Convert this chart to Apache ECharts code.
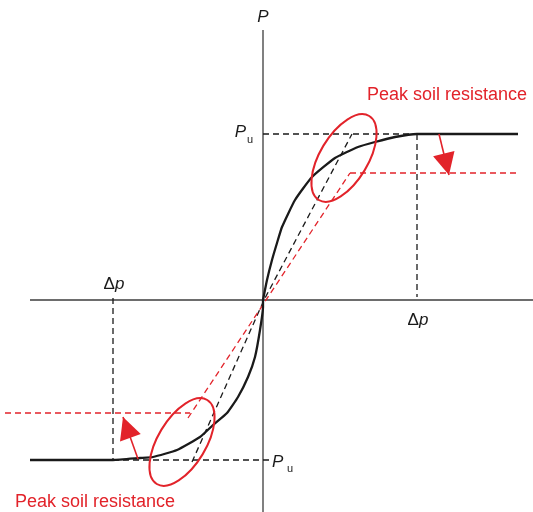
<!DOCTYPE html>
<html><head><meta charset="utf-8">
<script src="https://cdn.jsdelivr.net/npm/echarts@6/dist/echarts.min.js"></script>
<style>html,body{margin:0;padding:0;background:#fff}#c{width:533px;height:512px}</style>
</head><body><div id="c"></div>
<script>
// Data units: offsets from the origin (displacement to the right, force upwards)
const upperCurve = [[0,0],[4,20],[9,40],[14,57],[19,73],[32,100],[49,123],[72,142],[95,153],[112,158],[132,163],[154,166],[255,166]];
const lowerCurve = [[0,0],[0,-7],[-3,-30],[-8,-57],[-15,-77],[-25,-97],[-36,-113],[-50,-125],[-63,-137],[-86,-150],[-110,-157],[-123,-158],[-150,-160],[-233,-160]];
const deltaPos = 154, deltaNeg = -150, puPos = 166, puNeg = -160;
const puPosLine = [[0,166],[154,166]];
const deltaPosLine = [[154,166],[154,3]];
const puNegLine = [[-150,-160],[7,-160]];
const deltaNegLine = [[-150,2],[-150,-160]];
const initialStiffness = [[-71,-162],[1,0],[89,166]];
const reducedStiffness = [[-75,-118],[87,127]];
const reducedPeakPos = [[87,127],[255,127]];
const reducedPeakNeg = [[-258,-113],[-73,-113]];
const axisXLine = [[-233,0],[270,0]];
const axisYLine = [[0,270],[0,-212]];
const ellipseCenters = [[81,142],[-81,-142]];
const arrows = [[[176,166],[186,125]], [[-125,-159],[-140,-117]]];
const labelText = 'Peak soil resistance';

const RED = '#e2232a', BLACK = '#1a1a1a', AXIS = '#3c3c3c';
const FONT = "'Liberation Sans', Arial, sans-serif";

const chart = echarts.init(document.getElementById('c'), null, {renderer: 'canvas'});

function lineSeries(data, color, width, type, z, smooth) {
  return {type: 'line', data: data, showSymbol: false, symbol: 'none', silent: true, smooth: smooth || false,
    lineStyle: {color: color, width: width, type: type}, z: z || 2, animation: false};
}

chart.setOption({
  animation: false,
  grid: {left: 0, top: 0, width: 533, height: 512, containLabel: false},
  xAxis: {type: 'value', min: -263, max: 270, show: false},
  yAxis: {type: 'value', min: -212, max: 300, show: false},
  series: [
    lineSeries(axisXLine, AXIS, 1.3, 'solid', 1),
    lineSeries(axisYLine, AXIS, 1.3, 'solid', 1),
    lineSeries(puPosLine, BLACK, 1.3, [6, 4]),
    lineSeries(deltaPosLine, BLACK, 1.3, [6, 4]),
    lineSeries(puNegLine, BLACK, 1.3, [6, 4]),
    lineSeries(deltaNegLine, BLACK, 1.3, [6, 4]),
    lineSeries(initialStiffness, BLACK, 1.3, [6, 4]),
    lineSeries(reducedStiffness, RED, 1.3, [6, 4]),
    lineSeries(reducedPeakPos, RED, 1.3, [6, 4]),
    lineSeries(reducedPeakNeg, RED, 1.3, [6, 4]),
    lineSeries(upperCurve, BLACK, 2.3, 'solid', 3, 0.15),
    lineSeries(lowerCurve, BLACK, 2.3, 'solid', 3, 0.15),
    lineSeries(arrows[0], RED, 1.6, 'solid', 4),
    lineSeries(arrows[1], RED, 1.6, 'solid', 4)
  ]
});

const px = p => chart.convertToPixel({gridIndex: 0}, p);
const graphics = [];

ellipseCenters.forEach(c => {
  const p = px(c);
  graphics.push({type: 'ellipse', x: p[0], y: p[1], rotation: 59 * Math.PI / 180,
    shape: {cx: 0, cy: 0, rx: 49, ry: 24},
    style: {fill: 'none', stroke: RED, lineWidth: 2}, z: 10});
});

arrows.forEach(a => {
  const s = px(a[0]), t = px(a[1]);
  const dx = t[0] - s[0], dy = t[1] - s[1], len = Math.hypot(dx, dy);
  const ux = dx / len, uy = dy / len, L = 22, W = 11;
  const bx = t[0] - ux * L, by = t[1] - uy * L;
  graphics.push({type: 'polygon', shape: {points: [t, [bx + uy * W, by - ux * W], [bx - uy * W, by + ux * W]]},
    style: {fill: RED}, z: 11});
});

function txt(x, y, text, opts) {
  graphics.push({type: 'text', x: x, y: y, z: 12, style: Object.assign({
    text: text, fontFamily: FONT, fontSize: 17, fill: BLACK, align: 'center', verticalAlign: 'middle'}, opts || {})});
}
const o = px([0, 0]);
txt(o[0], 17, 'P', {fontStyle: 'italic'});
const pu1 = px([0, puPos]);
txt(pu1[0] - 17, pu1[1] - 2, 'P', {fontStyle: 'italic', align: 'right'});
txt(pu1[0] - 16, pu1[1] + 6, 'u', {fontSize: 11, align: 'left'});
const pu2 = px([0, puNeg]);
txt(pu2[0] + 9, pu2[1] + 2, 'P', {fontStyle: 'italic', align: 'left'});
txt(pu2[0] + 24, pu2[1] + 9, 'u', {fontSize: 11, align: 'left'});
const richD = {d: {fontFamily: FONT, fontSize: 17, fill: BLACK}, p: {fontFamily: FONT, fontSize: 17, fill: BLACK, fontStyle: 'italic'}};
const dn = px([deltaNeg, 0]);
txt(dn[0] + 1, dn[1] - 16, '{d|Δ}{p|p}', {rich: richD});
const dp = px([deltaPos, 0]);
txt(dp[0] + 1, dp[1] + 20, '{d|Δ}{p|p}', {rich: richD});
txt(367, 95, labelText, {fill: RED, align: 'left', fontSize: 18});
txt(15, 502, labelText, {fill: RED, align: 'left', fontSize: 18});

chart.setOption({graphic: graphics});
</script></body></html>
